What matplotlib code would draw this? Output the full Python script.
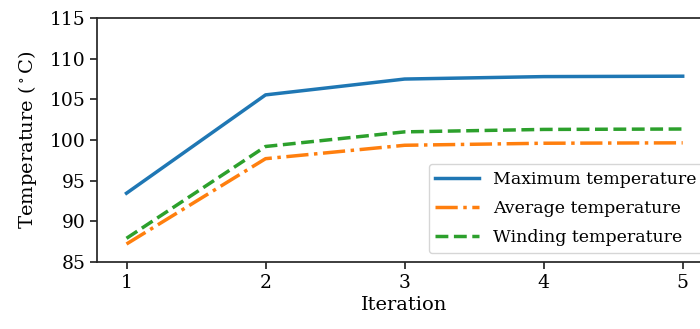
import matplotlib
matplotlib.use("Agg")
import matplotlib.pyplot as plt

plt.rcParams['font.family'] = ['DejaVu Serif']
plt.rcParams['mathtext.fontset'] = 'dejavuserif'

# Data
iterations = [1, 2, 3, 4, 5]
max_temp = [93.45, 105.55, 107.5, 107.8, 107.85]
avg_temp = [87.2, 97.7, 99.35, 99.6, 99.65]
winding_temp = [87.9, 99.2, 101.0, 101.3, 101.35]

fig = plt.figure(figsize=(7, 3.29), dpi=100)
ax = fig.add_axes([0.139, 0.204, 0.878, 0.741])

ax.plot(iterations, max_temp, color='#1f77b4', linestyle='-', linewidth=2.5, label='Maximum temperature')
ax.plot(iterations, avg_temp, color='#ff7f0e', linestyle='-.', linewidth=2.5, label='Average temperature')
ax.plot(iterations, winding_temp, color='#2ca02c', linestyle='--', linewidth=2.5, label='Winding temperature')

ax.set_xlim(0.79, 5.21)
ax.set_ylim(85, 115)
ax.set_xticks(iterations)
ax.set_yticks([85, 90, 95, 100, 105, 110, 115])
ax.tick_params(labelsize=13.5, width=1.25, length=5, color='#262626')
for s in ax.spines.values():
    s.set_linewidth(1.25)
    s.set_color('#262626')

ax.set_xlabel('Iteration', fontsize=14, labelpad=3)
ax.set_ylabel(r'Temperature ($^\circ$C)', fontsize=14, labelpad=8)
ax.legend(loc='lower right', fontsize=12.5, handlelength=2.5, labelspacing=0.7,
          bbox_to_anchor=(1.0, 0.0))

fig.savefig('out.png', dpi=100)
